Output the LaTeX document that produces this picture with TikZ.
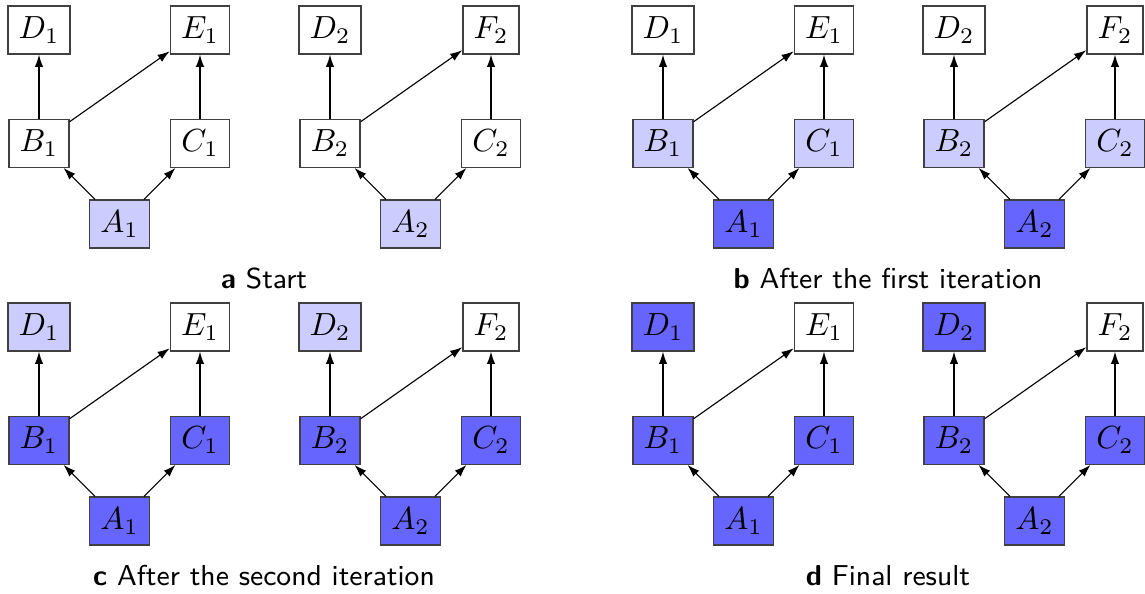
\documentclass[tikz,border=0pt]{standalone}
\usetikzlibrary{arrows.meta}

% one unit = one pixel of the 1145 x 594 canvas (y grows downwards)
\tikzset{
  x=0.3125pt, y=-0.3125pt,
  vx/.style={draw=black!75, line width=0.4pt, fill=white},
  lite/.style={fill=blue!20},
  deep/.style={fill=blue!60},
  edge/.style={-{Latex[length=3.8pt,width=2.6pt]}, line width=0.35pt},
  subcap/.style={anchor=base, font=\small\sffamily}
}

% two dependency graphs side by side
% #1 name prefix, #2/#3 shift, #4 style of A, #5 style of B and C, #6 style of D
\newcommand\graphpair[6]{%
  \begin{scope}[shift={(#2,#3)}]
    \foreach \k/\dx/\tl in {1/0/E,2/291/F}{
      \node[vx,#6] (#1D\k) at (39+\dx,30)      {$D_{\k}$};
      \node[vx]    (#1T\k) at (200+\dx,30)     {$\tl_{\k}$};
      \node[vx,#5] (#1B\k) at (39+\dx,143.3)   {$B_{\k}$};
      \node[vx,#5] (#1C\k) at (200+\dx,143.3)  {$C_{\k}$};
      \node[vx,#4] (#1A\k) at (119.5+\dx,224)  {$A_{\k}$};
      \draw[edge] (#1A\k) -- (#1B\k);
      \draw[edge] (#1A\k) -- (#1C\k);
      \draw[edge] (#1B\k) -- (#1D\k);
      \draw[edge] (#1B\k) -- (#1T\k);
      \draw[edge] (#1C\k) -- (#1T\k);
    }
  \end{scope}}

\begin{document}
\begin{tikzpicture}
  \useasboundingbox (0,0) rectangle (1145,594);

  \graphpair{a}{0}{0}{lite}{}{}
  \node[subcap] (capa) at (264,288.5) {\textbf{a} Start};

  \graphpair{b}{624}{0}{deep}{lite}{}
  \node[subcap] (capb) at (888,288.5) {\textbf{b} After the first iteration};

  \graphpair{c}{0}{297}{deep}{deep}{lite}
  \node[subcap] (capc) at (264,585.5) {\textbf{c} After the second iteration};

  \graphpair{d}{624}{297}{deep}{deep}{deep}
  \node[subcap] (capd) at (888,585.5) {\textbf{d} Final result};
\end{tikzpicture}
\end{document}
